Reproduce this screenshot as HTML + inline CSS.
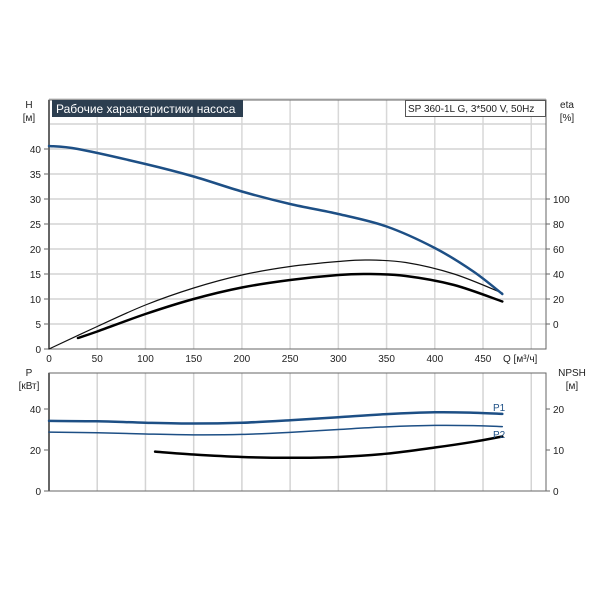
<!DOCTYPE html>
<html><head><meta charset="utf-8"><style>
body{margin:0;background:#fff;}
svg{display:block;font-family:"Liberation Sans","DejaVu Sans",sans-serif;}
</style></head><body>
<svg id="c" width="600" height="600" viewBox="0 0 600 600" xmlns="http://www.w3.org/2000/svg"></svg>
<script>
const qTicks=[0,50,100,150,200,250,300,350,400,450];
const hTicks=[0,5,10,15,20,25,30,35,40];
const etaTicks=[0,20,40,60,80,100];
const pTicks=[0,20,40];
const npshTicks=[0,10,20];
const hQ=[0,30,100,150,200,250,300,350,400,440,470];
const hVal=[40.6,40,37,34.5,31.5,29,27,24.5,20.2,15.5,11];
const eta1Q=[0,50,100,150,200,250,300,330,370,420,470];
const eta1Val=[-20,-2,15.2,28.8,39.2,46,50,51.2,49.2,40,24.8];
const eta2Q=[30,50,100,150,200,250,300,330,370,420,470];
const eta2Val=[-11.2,-6,8,20,29.2,35.2,39.2,40,38.4,31.2,18];
const p1Q=[0,50,100,150,200,250,300,350,400,440,470];
const p1Val=[34.2,34,33.3,32.9,33.3,34.5,36,37.5,38.4,38.2,37.6];
const p2Q=[0,50,100,150,200,250,300,350,400,440,470];
const p2Val=[28.7,28.4,27.8,27.4,27.6,28.6,30,31.3,32,31.9,31.4];
const npshQ=[110,150,200,250,300,350,400,440,470];
const npshVal=[9.6,8.9,8.3,8.1,8.3,9.1,10.6,12,13.3];

const NS="http://www.w3.org/2000/svg";
const svg=document.getElementById('c');
const X=q=>49+q*0.9645;
const YH=h=>349-h*5;
const YE=e=>324-e*1.25;
const YP=p=>491-p*2.05;
const YN=n=>491-n*4.1;
function el(tag,attrs,parent){const e=document.createElementNS(NS,tag);for(const k in attrs)e.setAttribute(k,attrs[k]);(parent||svg).appendChild(e);return e;}
function txt(s,x,y,anchor,size,fill){const t=el('text',{x:x,y:y,'text-anchor':anchor,'font-size':size,fill:fill||'#222'});t.textContent=s;return t;}
function smooth(xs,ys){let d='M'+xs[0]+','+ys[0];for(let i=0;i<xs.length-1;i++){const x0=xs[i-1]??xs[i],y0=ys[i-1]??ys[i],x3=xs[i+2]??xs[i+1],y3=ys[i+2]??ys[i+1];const c1x=xs[i]+(xs[i+1]-x0)/6,c1y=ys[i]+(ys[i+1]-y0)/6,c2x=xs[i+1]-(x3-xs[i])/6,c2y=ys[i+1]-(y3-ys[i])/6;d+=` C${c1x},${c1y} ${c2x},${c2y} ${xs[i+1]},${ys[i+1]}`;}return d;}

const gTop=el('g',{});


for(let q=50;q<=500;q+=50){el('line',{x1:X(q),x2:X(q),y1:100,y2:349,stroke:'#d8d8d8','stroke-width':1.5},gTop);}
for(let h=5;h<=50;h+=5){el('line',{x1:49,x2:546,y1:YH(h),y2:YH(h),stroke:'#d4d4d4','stroke-width':1.5},gTop);}
el('rect',{x:49,y:100,width:497,height:249,fill:'none',stroke:'#666','stroke-width':1},gTop);
el('line',{x1:49,x2:49,y1:100,y2:349,stroke:'#666','stroke-width':2},gTop);
const gBot=el('g',{});


for(let q=50;q<=500;q+=50){el('line',{x1:X(q),x2:X(q),y1:373,y2:491,stroke:'#d4d4d4','stroke-width':1.5},gBot);}
el('rect',{x:49,y:373,width:497,height:118,fill:'none',stroke:'#666','stroke-width':1},gBot);
el('line',{x1:49,x2:49,y1:373,y2:491,stroke:'#666','stroke-width':2},gBot);

qTicks.forEach(q=>{const t=txt(q,X(q),362,'middle',10);});
hTicks.forEach(h=>{const t=txt(h,41,YH(h)+4,'end',10);el('line',{x1:44,x2:49,y1:YH(h),y2:YH(h),stroke:'#666'});});
etaTicks.forEach(e=>{const t=txt(e,553,YE(e)+4,'start',10);el('line',{x1:546,x2:550,y1:YE(e),y2:YE(e),stroke:'#666'});});
pTicks.forEach(p=>{const t=txt(p,41,YP(p)+4,'end',10);el('line',{x1:44,x2:49,y1:YP(p),y2:YP(p),stroke:'#666'});});
npshTicks.forEach(n=>{const t=txt(n,553,YN(n)+4,'start',10);el('line',{x1:546,x2:550,y1:YN(n),y2:YN(n),stroke:'#666'});});

function curve(qs,vs,ys,color,w,name){const p=el('path',{d:smooth(qs.map(X),vs.map(ys)),fill:'none',stroke:color,'stroke-width':w,'stroke-linecap':'round'});}
curve(eta1Q,eta1Val,YE,'#111',1.2,'eta-curve-thin');
curve(eta2Q,eta2Val,YE,'#000',2.5,'eta-curve-thick');
curve(hQ,hVal,YH,'#1d4f85',2.5,'head-curve');
curve(p1Q,p1Val,YP,'#1d4f85',2.5,'p1-curve');
curve(p2Q,p2Val,YP,'#1d4f85',1.5,'p2-curve');
curve(npshQ,npshVal,YN,'#000',2.5,'npsh-curve');
</script>
<svg style="position:absolute;left:0;top:0" width="600" height="600">
<g font-family="Liberation Sans, DejaVu Sans, sans-serif" font-size="10" fill="#222">
<text x="29" y="108" text-anchor="middle">H</text>
<text x="29" y="121" text-anchor="middle">[м]</text>
<text x="567" y="108" text-anchor="middle">eta</text>
<text x="567" y="121" text-anchor="middle">[%]</text>
<text x="503" y="362" text-anchor="start">Q [м³/ч]</text>
<text x="29" y="376" text-anchor="middle">P</text>
<text x="29" y="389" text-anchor="middle">[кВт]</text>
<text x="572" y="376" text-anchor="middle">NPSH</text>
<text x="572" y="389" text-anchor="middle">[м]</text>
<text x="493" y="411" fill="#1d4f85">P1</text>
<text x="493" y="438" fill="#1d4f85">P2</text>
</g>
<rect x="52" y="100" width="191" height="17" fill="#2c3e50"/>
<text x="56" y="113" font-family="Liberation Sans, DejaVu Sans, sans-serif" font-size="12" fill="#fff">Рабочие характеристики насоса</text>
<rect x="405.5" y="100.5" width="140" height="16" fill="#fff" stroke="#555"/>
<text x="408" y="112" font-family="Liberation Sans, DejaVu Sans, sans-serif" font-size="10" fill="#222">SP 360-1L G, 3*500 V, 50Hz</text>
</svg>
</body></html>
